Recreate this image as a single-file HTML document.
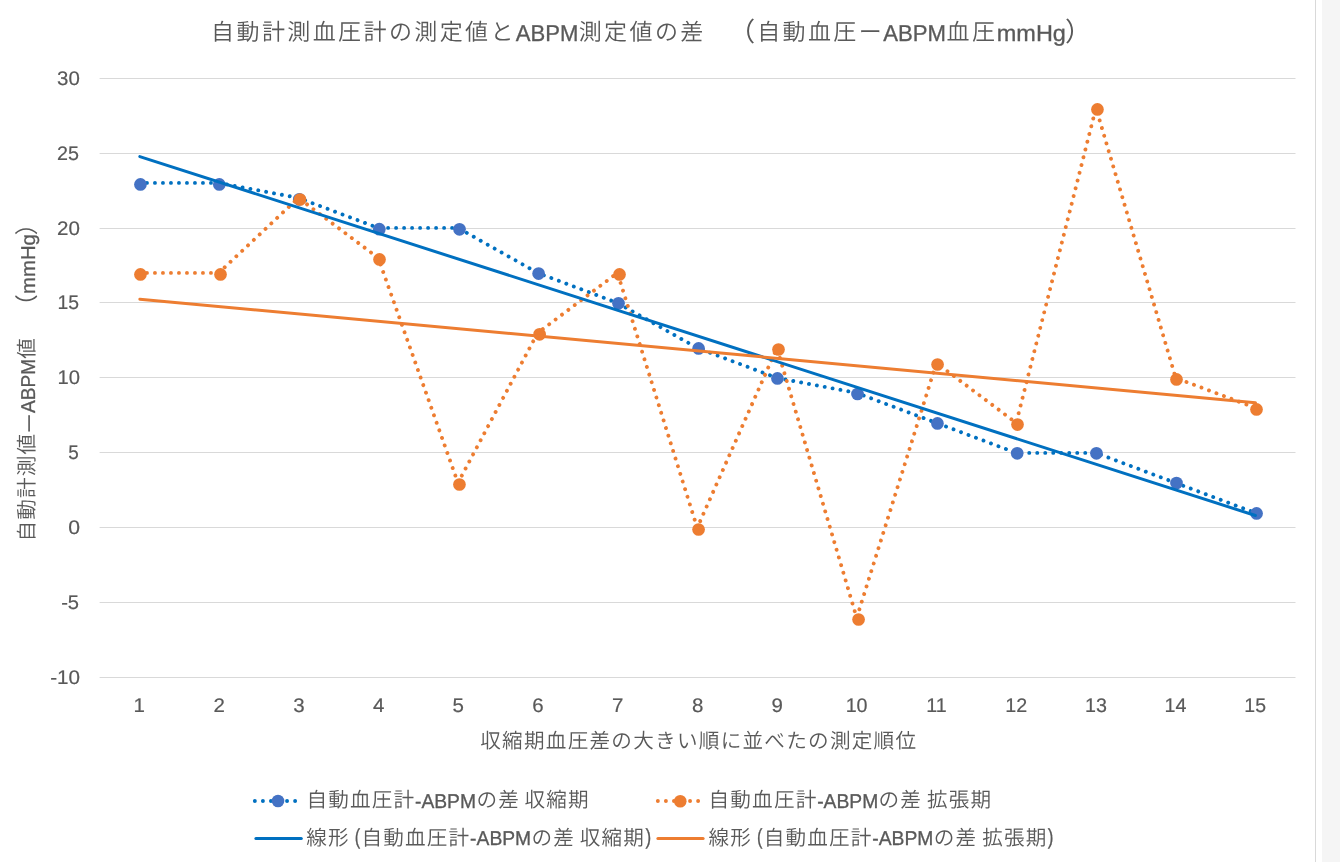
<!DOCTYPE html>
<html lang="ja"><head><meta charset="utf-8">
<title>自動計測血圧計の測定値とABPM測定値の差</title>
<style>
html,body{margin:0;padding:0;background:#fff;}
body{width:1340px;height:862px;overflow:hidden;position:relative;}
svg{display:block;position:absolute;left:0;top:0;text-rendering:geometricPrecision;}
text{font-family:"Liberation Sans","Noto Sans CJK JP",sans-serif;fill:#595959;white-space:pre;}
.l,.lb{font-family:"Liberation Sans",sans-serif;stroke:#595959;stroke-width:0.2px;}
.lb{stroke-width:0.32px;}
.j,.jt{font-family:"Liberation Sans","Noto Sans CJK JP",sans-serif;font-weight:350;}
.jt{font-weight:350;}
</style></head><body>
<svg width="1340" height="862" viewBox="0 0 1340 862">
<rect x="0" y="0" width="1340" height="862" fill="#ffffff"/>
<rect x="1322" y="0" width="18" height="862" fill="#f5f5f5"/>
<rect x="1315" y="0" width="1" height="862" fill="#d9d9d9"/>
<g fill="#d9d9d9">
<rect x="99.6" y="78" width="1195.9" height="1"/>
<rect x="99.6" y="153" width="1195.9" height="1"/>
<rect x="99.6" y="228" width="1195.9" height="1"/>
<rect x="99.6" y="302" width="1195.9" height="1"/>
<rect x="99.6" y="377" width="1195.9" height="1"/>
<rect x="99.6" y="452" width="1195.9" height="1"/>
<rect x="99.6" y="527" width="1195.9" height="1"/>
<rect x="99.6" y="602" width="1195.9" height="1"/>
<rect x="99.6" y="677" width="1195.9" height="1"/>
</g>
<g class="l" font-size="19.7">
<text x="57.12" y="84.60" textLength="22.76" lengthAdjust="spacingAndGlyphs">30</text>
<text x="57.14" y="159.60" textLength="21.93" lengthAdjust="spacingAndGlyphs">25</text>
<text x="57.10" y="234.60" textLength="22.89" lengthAdjust="spacingAndGlyphs">20</text>
<text x="57.43" y="308.60" textLength="21.54" lengthAdjust="spacingAndGlyphs">15</text>
<text x="57.49" y="383.60" textLength="22.50" lengthAdjust="spacingAndGlyphs">10</text>
<text x="68.28" y="458.60" textLength="10.49" lengthAdjust="spacingAndGlyphs">5</text>
<text x="68.29" y="533.60" textLength="11.78" lengthAdjust="spacingAndGlyphs">0</text>
<text x="61.17" y="608.60" textLength="17.91" lengthAdjust="spacingAndGlyphs">-5</text>
<text x="50.18" y="683.60" textLength="29.89" lengthAdjust="spacingAndGlyphs">-10</text>
</g>
<g class="l" font-size="19.7">
<text x="133.61" y="711.6" textLength="11.42" lengthAdjust="spacingAndGlyphs">1</text>
<text x="213.43" y="711.6" textLength="11.39" lengthAdjust="spacingAndGlyphs">2</text>
<text x="293.29" y="711.6" textLength="11.39" lengthAdjust="spacingAndGlyphs">3</text>
<text x="372.90" y="711.6" textLength="11.39" lengthAdjust="spacingAndGlyphs">4</text>
<text x="452.63" y="711.6" textLength="11.39" lengthAdjust="spacingAndGlyphs">5</text>
<text x="532.36" y="711.6" textLength="11.39" lengthAdjust="spacingAndGlyphs">6</text>
<text x="612.10" y="711.6" textLength="11.39" lengthAdjust="spacingAndGlyphs">7</text>
<text x="691.96" y="711.6" textLength="11.39" lengthAdjust="spacingAndGlyphs">8</text>
<text x="771.56" y="711.6" textLength="11.39" lengthAdjust="spacingAndGlyphs">9</text>
<text x="845.64" y="711.6" textLength="21.91" lengthAdjust="spacingAndGlyphs">10</text>
<text x="926.25" y="711.6" textLength="20.44" lengthAdjust="spacingAndGlyphs">11</text>
<text x="1005.23" y="711.6" textLength="21.91" lengthAdjust="spacingAndGlyphs">12</text>
<text x="1084.97" y="711.6" textLength="21.91" lengthAdjust="spacingAndGlyphs">13</text>
<text x="1164.58" y="711.6" textLength="21.91" lengthAdjust="spacingAndGlyphs">14</text>
<text x="1244.32" y="711.6" textLength="21.66" lengthAdjust="spacingAndGlyphs">15</text>
</g>
<polyline points="138.95,182.90 218.70,182.90 298.45,197.90 378.20,227.90 457.95,227.90 537.70,272.90 617.45,302.90 697.20,347.90 776.95,377.90 856.70,392.90 936.45,422.90 1016.20,452.90 1095.95,452.90 1175.70,482.90 1255.45,512.90" fill="none" stroke="#0070c0" stroke-width="3.9" stroke-dasharray="0.01 7.99" stroke-linecap="round" stroke-linejoin="round"/>
<g fill="#4472c4">
<circle cx="140.46" cy="184.40" r="6.35"/>
<circle cx="219.30" cy="184.40" r="6.35"/>
<circle cx="299.30" cy="199.30" r="6.35"/>
<circle cx="379.30" cy="229.20" r="6.35"/>
<circle cx="459.50" cy="229.35" r="6.35"/>
<circle cx="538.60" cy="273.60" r="6.35"/>
<circle cx="618.50" cy="303.35" r="6.35"/>
<circle cx="698.60" cy="348.40" r="6.35"/>
<circle cx="777.45" cy="378.45" r="6.35"/>
<circle cx="857.50" cy="394.00" r="6.35"/>
<circle cx="937.45" cy="423.40" r="6.35"/>
<circle cx="1017.20" cy="453.30" r="6.35"/>
<circle cx="1096.45" cy="453.30" r="6.35"/>
<circle cx="1176.50" cy="483.10" r="6.35"/>
<circle cx="1256.55" cy="513.45" r="6.35"/>
</g>
<polyline points="138.95,272.90 218.70,272.90 298.45,197.90 378.20,257.90 457.95,482.90 537.70,332.90 617.45,272.90 697.20,527.90 776.95,347.90 856.70,617.90 936.45,362.90 1016.20,422.90 1095.95,107.90 1175.70,377.90 1255.45,407.90" fill="none" stroke="#ed7d31" stroke-width="3.9" stroke-dasharray="0.01 7.99" stroke-linecap="round" stroke-linejoin="round"/>
<line x1="139.85" y1="156.56" x2="1255.45" y2="515.53" stroke="#0070c0" stroke-width="3.0" stroke-linecap="round"/>
<g fill="#ed7d31">
<circle cx="140.46" cy="274.40" r="6.35"/>
<circle cx="220.50" cy="274.40" r="6.35"/>
<circle cx="300.00" cy="199.50" r="6.35"/>
<circle cx="379.50" cy="259.40" r="6.35"/>
<circle cx="459.45" cy="484.50" r="6.35"/>
<circle cx="539.60" cy="334.30" r="6.35"/>
<circle cx="619.50" cy="274.40" r="6.35"/>
<circle cx="698.55" cy="529.50" r="6.35"/>
<circle cx="778.50" cy="349.50" r="6.35"/>
<circle cx="858.55" cy="619.50" r="6.35"/>
<circle cx="937.55" cy="364.50" r="6.35"/>
<circle cx="1017.50" cy="424.55" r="6.35"/>
<circle cx="1097.45" cy="109.40" r="6.35"/>
<circle cx="1176.50" cy="379.40" r="6.35"/>
<circle cx="1256.50" cy="409.45" r="6.35"/>
</g>
<line x1="139.85" y1="299.23" x2="1255.45" y2="402.65" stroke="#ed7d31" stroke-width="3.0" stroke-linecap="round"/>
<text><tspan class="jt" x="211.10" y="40.20" font-size="23.0" letter-spacing="2.4">自動計測血圧計の測定値と</tspan><tspan class="lb" x="515.70" y="40.80" font-size="23.0" textLength="62.66" lengthAdjust="spacingAndGlyphs">ABPM</tspan><tspan class="jt" x="578.70" y="40.20" font-size="23.0" letter-spacing="2.4">測定値の差　</tspan><tspan class="jt" style="font-weight:400" x="728.75" y="41.40" font-size="26.4" letter-spacing="2.4">（</tspan><tspan class="jt" x="757.15" y="40.20" font-size="23.0" letter-spacing="2.4">自動血圧ー</tspan><tspan class="lb" x="883.30" y="40.80" font-size="23.0" textLength="62.77" lengthAdjust="spacingAndGlyphs">ABPM</tspan><tspan class="jt" x="946.60" y="40.20" font-size="23.0" letter-spacing="2.4">血圧</tspan><tspan class="lb" x="996.77" y="40.80" font-size="23.0" textLength="69.15" lengthAdjust="spacingAndGlyphs">mmHg</tspan><tspan class="jt" style="font-weight:400" x="1064.95" y="41.40" font-size="26.4" letter-spacing="2.4">）</tspan></text>
<text><tspan class="j" x="480.25" y="747.60" font-size="20.6" letter-spacing="1.26">収縮期血圧差の大きい順に並べたの測定順位</tspan></text>
<text transform="rotate(-90)"><tspan class="j" x="-541.50" y="34.40" font-size="20.6" letter-spacing="1.17">自動計測値</tspan><tspan class="j" x="-433.65" y="36.90" font-size="20.6" letter-spacing="1.17">ー</tspan><tspan class="lb" x="-413.00" y="34.80" font-size="20.0" textLength="54.01" lengthAdjust="spacingAndGlyphs">ABPM</tspan><tspan class="j" x="-358.70" y="34.40" font-size="20.6" letter-spacing="1.17">値　</tspan><tspan class="j" style="font-weight:400" x="-317.50" y="34.70" font-size="23.3" letter-spacing="1.17">（</tspan><tspan class="lb" x="-293.92" y="34.80" font-size="20.0" textLength="59.83" lengthAdjust="spacingAndGlyphs">mmHg</tspan><tspan class="j" style="font-weight:400" x="-235.35" y="34.70" font-size="23.3" letter-spacing="1.17">）</tspan></text>
<line x1="254.85" y1="801.03" x2="299.00" y2="801.03" stroke="#0070c0" stroke-width="3.9" stroke-dasharray="0.01 8.04" stroke-linecap="round"/>
<circle cx="278.00" cy="801.00" r="6.3" fill="#4472c4"/>
<line x1="657.85" y1="801.03" x2="702.00" y2="801.03" stroke="#ed7d31" stroke-width="3.9" stroke-dasharray="0.01 8.04" stroke-linecap="round"/>
<circle cx="680.26" cy="801.20" r="6.3" fill="#ed7d31"/>
<line x1="255.90" y1="838.47" x2="301.30" y2="838.47" stroke="#0070c0" stroke-width="3.0" stroke-linecap="round"/>
<line x1="657.90" y1="838.47" x2="703.10" y2="838.47" stroke="#ed7d31" stroke-width="3.0" stroke-linecap="round"/>
<text><tspan class="j" x="306.40" y="807.30" font-size="20.6" letter-spacing="1.17">自動血圧計</tspan><tspan class="lb" x="415.01" y="807.50" font-size="20.0" textLength="61.03" lengthAdjust="spacingAndGlyphs">-ABPM</tspan><tspan class="j" x="476.40" y="807.30" font-size="20.6" letter-spacing="1.17">の差 </tspan><tspan class="j" x="524.55" y="807.30" font-size="20.6" letter-spacing="1.17">収縮期</tspan></text>
<text><tspan class="j" x="708.60" y="807.30" font-size="20.6" letter-spacing="1.17">自動血圧計</tspan><tspan class="lb" x="817.21" y="807.50" font-size="20.0" textLength="61.03" lengthAdjust="spacingAndGlyphs">-ABPM</tspan><tspan class="j" x="878.60" y="807.30" font-size="20.6" letter-spacing="1.17">の差 </tspan><tspan class="j" x="927.00" y="807.30" font-size="20.6" letter-spacing="1.17">拡張期</tspan></text>
<text><tspan class="j" x="306.35" y="844.74" font-size="20.6" letter-spacing="1.17">線形 </tspan><tspan class="lb" x="354.87" y="844.34" font-size="21.8" textLength="5.43" lengthAdjust="spacingAndGlyphs">(</tspan><tspan class="j" x="361.50" y="844.74" font-size="20.6" letter-spacing="1.17">自動血圧計</tspan><tspan class="lb" x="470.11" y="844.94" font-size="20.0" textLength="61.03" lengthAdjust="spacingAndGlyphs">-ABPM</tspan><tspan class="j" x="531.50" y="844.74" font-size="20.6" letter-spacing="1.17">の差 </tspan><tspan class="j" x="579.75" y="844.74" font-size="20.6" letter-spacing="1.17">収縮期</tspan><tspan class="lb" x="645.60" y="844.34" font-size="21.8" textLength="5.69" lengthAdjust="spacingAndGlyphs">)</tspan></text>
<text><tspan class="j" x="708.55" y="844.74" font-size="20.6" letter-spacing="1.17">線形 </tspan><tspan class="lb" x="757.07" y="844.34" font-size="21.8" textLength="5.43" lengthAdjust="spacingAndGlyphs">(</tspan><tspan class="j" x="763.70" y="844.74" font-size="20.6" letter-spacing="1.17">自動血圧計</tspan><tspan class="lb" x="872.31" y="844.94" font-size="20.0" textLength="61.03" lengthAdjust="spacingAndGlyphs">-ABPM</tspan><tspan class="j" x="933.70" y="844.74" font-size="20.6" letter-spacing="1.17">の差 </tspan><tspan class="j" x="982.20" y="844.74" font-size="20.6" letter-spacing="1.17">拡張期</tspan><tspan class="lb" x="1047.80" y="844.34" font-size="21.8" textLength="5.69" lengthAdjust="spacingAndGlyphs">)</tspan></text>
</svg>
</body></html>
